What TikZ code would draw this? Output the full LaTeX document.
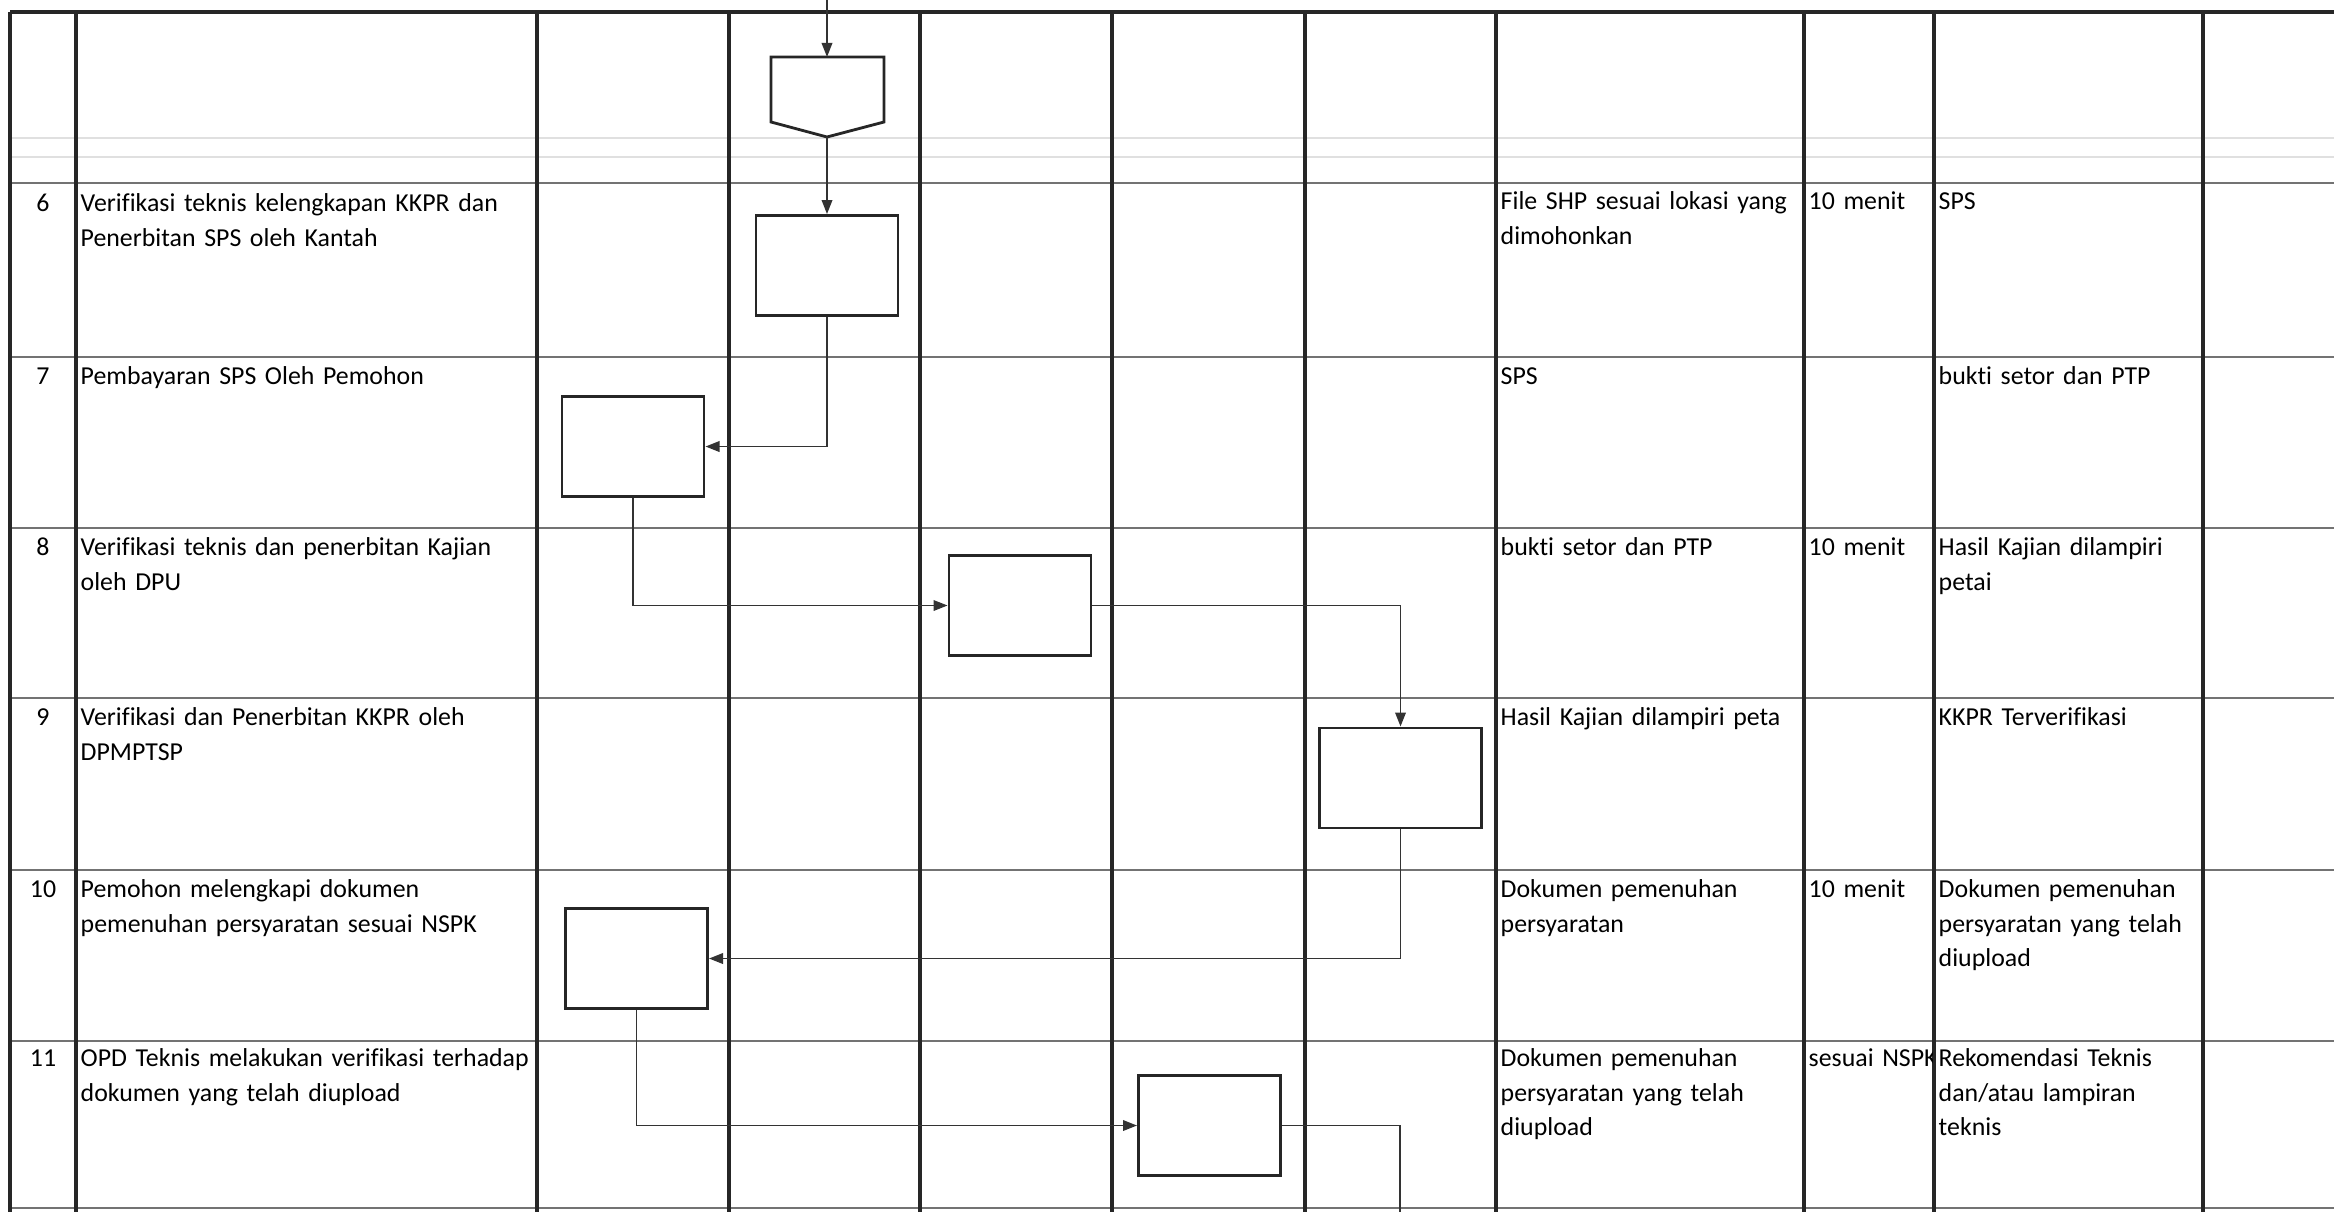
\documentclass[tikz,border=0pt]{standalone}
\usepackage{fontspec}
\setmainfont{Carlito}[Ligatures=NoCommon]
\usetikzlibrary{arrows.meta}
\tikzset{>/.tip={Triangle[length=4pt,width=3pt]}}

\begin{document}
\begin{tikzpicture}[x=0.01cm,y=-0.01cm,
  grid/.style={draw=black!85,line width=0.9pt},
  rowline/.style={draw=black!55,line width=0.5pt},
  faint/.style={draw=black!12,line width=0.4pt},
  proc/.style={draw=black!85,line width=0.8pt,minimum width=1.42cm,minimum height=1cm,inner sep=0pt},
  flow/.style={draw=black!80,line width=0.55pt},
  cell/.style={anchor=north west,align=left,text width=5cm,inner sep=0pt,font=\fontsize{7.35}{9.8}\selectfont,execute at begin node=\strut},
  num/.style={cell,anchor=north,align=center,text width=0.6cm}]
\useasboundingbox (0,0) rectangle (2334,1212);

% table lines
\draw[faint] (10,138) -- (2334,138);
\draw[faint] (10,157) -- (2334,157);
\draw[grid] (10,12) -- (2334,12);
\draw[rowline] (10,183) -- (2334,183);
\draw[rowline] (10,357) -- (2334,357);
\draw[rowline] (10,528) -- (2334,528);
\draw[rowline] (10,698) -- (2334,698);
\draw[rowline] (10,870) -- (2334,870);
\draw[rowline] (10,1041) -- (2334,1041);
\draw[rowline] (10,1208) -- (2334,1208);
\draw[grid] (10,12) -- (10,1212);
\draw[grid] (76,12) -- (76,1212);
\draw[grid] (537,12) -- (537,1212);
\draw[grid] (729,12) -- (729,1212);
\draw[grid] (920,12) -- (920,1212);
\draw[grid] (1112,12) -- (1112,1212);
\draw[grid] (1305,12) -- (1305,1212);
\draw[grid] (1496,12) -- (1496,1212);
\draw[grid] (1804,12) -- (1804,1212);
\draw[grid] (1934,12) -- (1934,1212);
\draw[grid] (2203,12) -- (2203,1212);

% off-page connector
\draw[draw=black!85,line width=0.8pt] (771,57) -- (884,57) -- (884,122) -- (827,137) -- (771,122) -- cycle;
\coordinate (in) at (827,0);
\coordinate (opc-top) at (827,57);
\coordinate (opc-tip) at (827,137);

% process boxes
\node[proc] (b6) at (827,265.5) {};
\node[proc] (b7) at (633,446.5) {};
\node[proc] (b8) at (1020,605.5) {};
\node[proc,minimum width=1.62cm] (b9) at (1400.5,778) {};
\node[proc] (b10) at (636.5,958.5) {};
\node[proc] (b11) at (1209.5,1125.5) {};
\coordinate (out) at (1400,1212);

% flow
\draw[flow,->] (in) -- (opc-top);
\draw[flow,->] (opc-tip) -- (b6.north);
\draw[flow,->] (b6.south) |- (b7.east);
\draw[flow,->] (b7.south) |- (b8.west);
\draw[flow,->] (b8.east) -| (b9.north);
\draw[flow,->] (b9.south) |- (b10.east);
\draw[flow,->] (b10.south) |- (b11.west);
\draw[flow] (b11.east) -| (out);

% row 6
\node[num] (n6) at (43,187) {6};
\node[cell] (k6) at (80,187) {Verifikasi teknis kelengkapan KKPR dan\\Penerbitan SPS oleh Kantah};
\node[cell] (i6) at (1500,185) {File SHP sesuai lokasi yang\\dimohonkan};
\node[cell] (w6) at (1808,185) {10 menit};
\node[cell] (o6) at (1938,185) {SPS};
% row 7
\node[num] (n7) at (43,360) {7};
\node[cell] (k7) at (80,360) {Pembayaran SPS Oleh Pemohon};
\node[cell] (i7) at (1500,360) {SPS};
\node[cell] (o7) at (1938,360) {bukti setor dan PTP};
% row 8
\node[num] (n8) at (43,531) {8};
\node[cell] (k8) at (80,531) {Verifikasi teknis dan penerbitan Kajian\\oleh DPU};
\node[cell] (i8) at (1500,531) {bukti setor dan PTP};
\node[cell] (w8) at (1808,531) {10 menit};
\node[cell] (o8) at (1938,531) {Hasil Kajian dilampiri\\petai};
% row 9
\node[num] (n9) at (43,701) {9};
\node[cell] (k9) at (80,701) {Verifikasi dan Penerbitan KKPR oleh\\DPMPTSP};
\node[cell] (i9) at (1500,701) {Hasil Kajian dilampiri peta};
\node[cell] (o9) at (1938,701) {KKPR Terverifikasi};
% row 10
\node[num] (n10) at (43,873) {10};
\node[cell] (k10) at (80,873) {Pemohon melengkapi dokumen\\pemenuhan persyaratan sesuai NSPK};
\node[cell] (i10) at (1500,873) {Dokumen pemenuhan\\persyaratan};
\node[cell] (w10) at (1808,873) {10 menit};
\node[cell] (o10) at (1938,873) {Dokumen pemenuhan\\persyaratan yang telah\\diupload};
% row 11
\node[num] (n11) at (43,1042) {11};
\node[cell] (k11) at (80,1042) {OPD Teknis melakukan verifikasi terhadap\\dokumen yang telah diupload};
\node[cell] (i11) at (1500,1042) {Dokumen pemenuhan\\persyaratan yang telah\\diupload};
\begin{scope}
\clip (1804,1041) rectangle (1932,1208);
\node[cell] (w11) at (1808,1042) {sesuai NSPK};
\end{scope}
\node[cell] (o11) at (1938,1042) {Rekomendasi Teknis\\dan/atau lampiran\\teknis};
\end{tikzpicture}
\end{document}
